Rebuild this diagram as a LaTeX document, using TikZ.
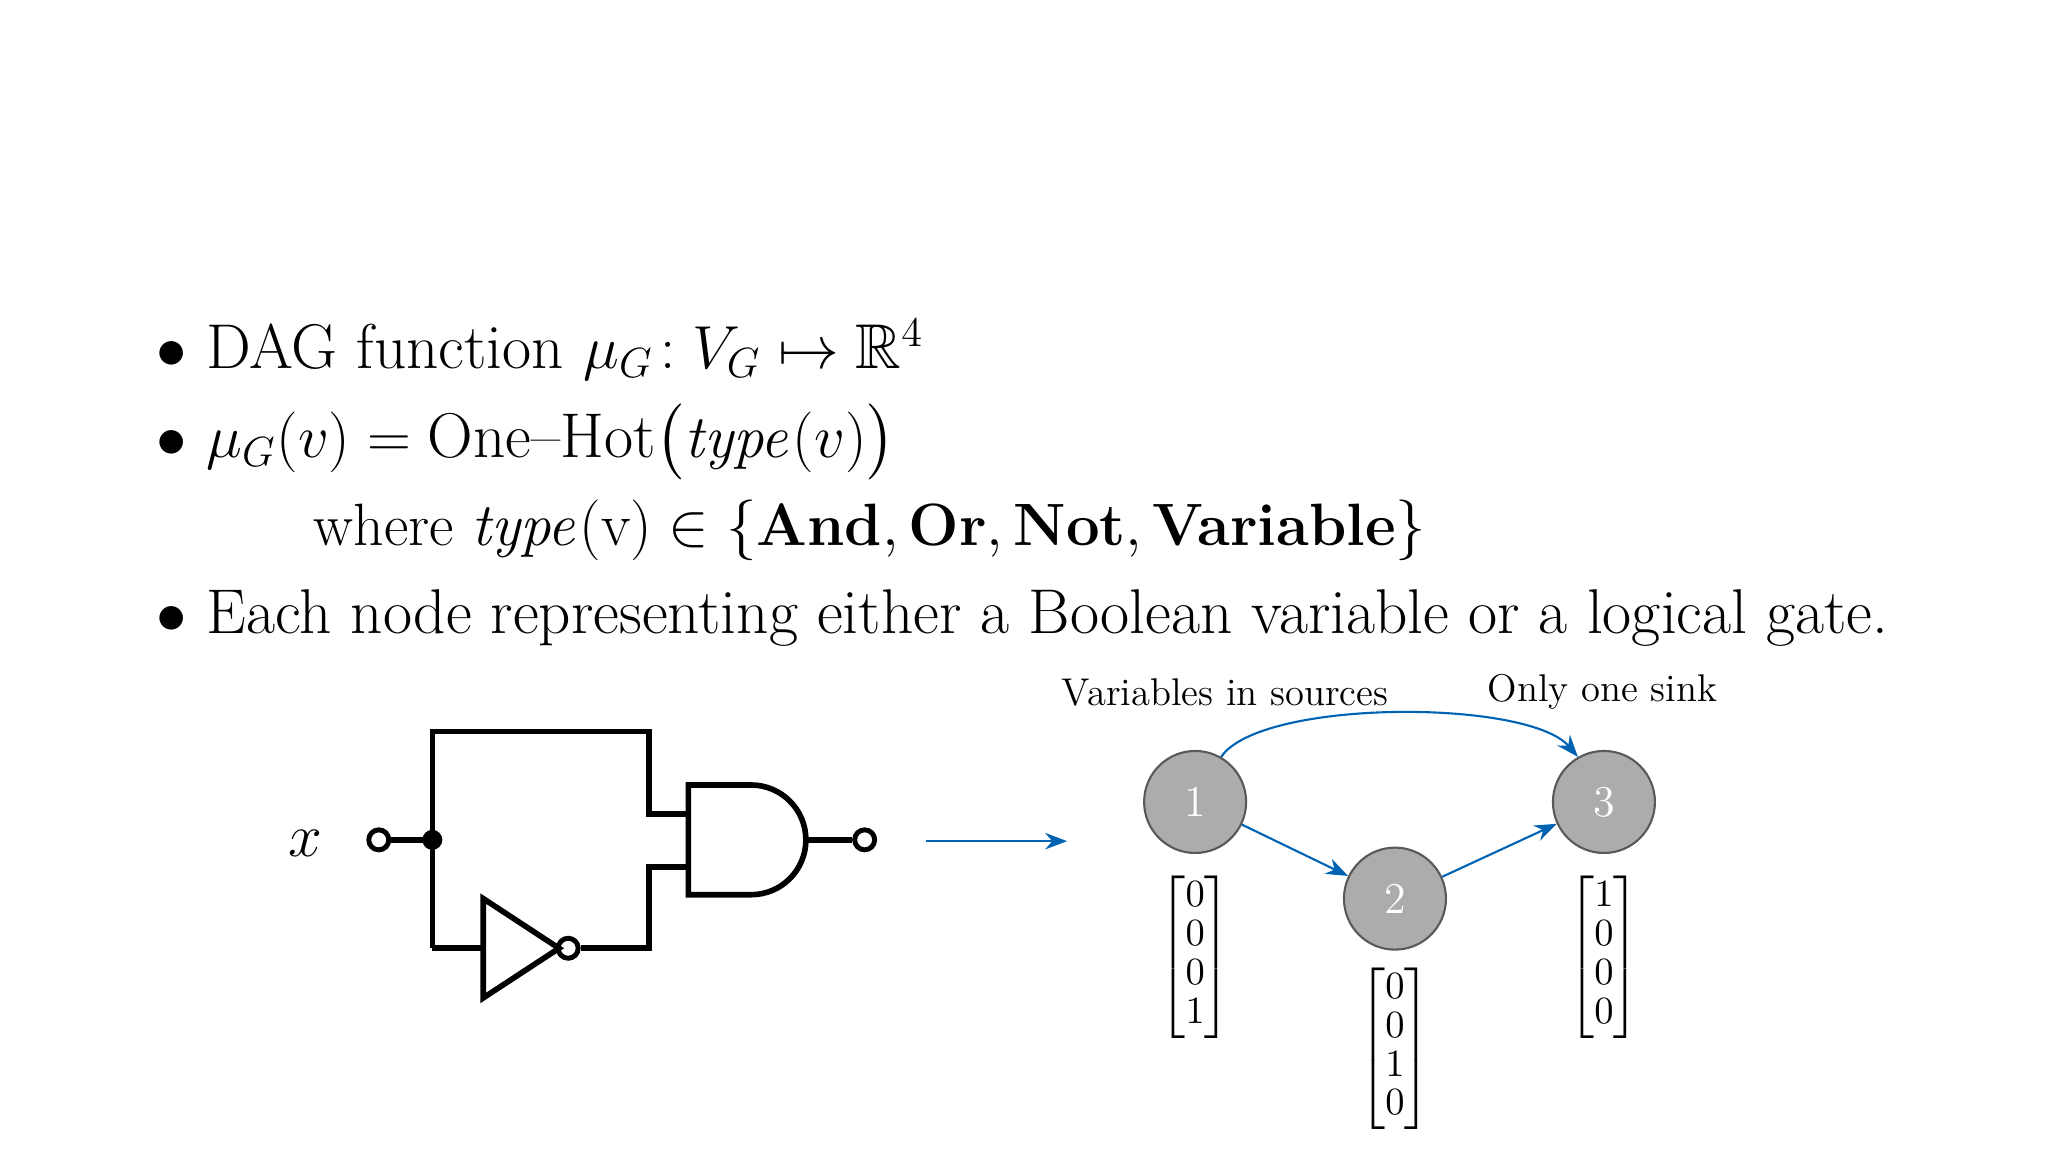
\documentclass[tikz,border=0pt]{standalone}
\usepackage{amsmath,amssymb}
\usetikzlibrary{arrows.meta}
\begin{document}
\begin{tikzpicture}[x=0.1306mm,y=-0.1306mm,line width=1.6pt,
  txt/.style={anchor=base west,inner sep=0pt,font=\fontsize{18}{21}\selectfont},
  lbl/.style={font=\fontsize{11}{13}\selectfont},
  vec/.style={font=\fontsize{11}{13}\selectfont,inner sep=0pt},
  vert/.style={draw=gray!70!black,line width=0.6pt,fill=gray!65,circle,minimum size=10.2mm,text=white,font=\fontsize{12.5}{15}\selectfont},
  flow/.style={draw=blue!45!cyan!70!black,line width=0.6pt,-{Stealth[length=2.2mm]}},
  pin/.style={draw,circle,fill=white,inner sep=0pt,minimum size=2mm,line width=1.4pt}]
  \useasboundingbox (0,0) rectangle (1568,882);
  % bullets
  \node[txt] (l1) at (118,282) {$\bullet$\ DAG function $\mu_G\!: V_G \mapsto \mathbb{R}^4$};
  \node[txt] (l2) at (118,350) {$\bullet$\ $\mu_G(v) = \text{One--Hot}\big(\mathit{type}(v)\big)$};
  \node[txt,font=\fontsize{17}{20}\selectfont] (l3) at (238,418) {where $\mathit{type}(\mathrm{v})\in\{\textbf{And},\textbf{Or},\textbf{Not},\textbf{Variable}\}$};
  \node[txt] (l4) at (118,485) {$\bullet$\ Each node representing either a Boolean variable or a logical gate.};
  % circuit
  \node[font=\fontsize{18}{20}\selectfont] (x) at (234,646) {$x$};
  \node[pin] (in) at (290,643) {};
  \node[pin] (out) at (662,643) {};
  \node[pin] (bub) at (435,726) {};
  \coordinate (j) at (331,643);
  \fill (j) circle (1mm);
  \draw (in) -- (j);
  \draw (331,726) -- (331,560) -- (497,560) -- (497,623) -- (527,623);
  \draw (331,726) -- (370,726);
  \draw (370,688) -- (370,764) -- (428,726) -- cycle;
  \draw (bub) -- (497,726) -- (497,664) -- (527,664);
  \draw (575,601) -- (527,601) -- (527,685) -- (575,685) arc (90:-90:42);
  \draw (617,643) -- (out);
  % arrow
  \coordinate (a0) at (709,644);
  \coordinate (a1) at (817,644);
  \draw[flow] (a0) -- (a1);
  % DAG
  \node[vert] (n1) at (915,614) {1};
  \node[vert] (n2) at (1068,688) {2};
  \node[vert] (n3) at (1228,614) {3};
  \draw[flow] (n1) -- (n2);
  \draw[flow] (n2) -- (n3);
  \draw[flow] (n1.60) .. controls (965,535) and (1170,535) .. (n3.120);
  \node[lbl] (src) at (938,530) {Variables in sources};
  \node[lbl] (snk) at (1227,530) {Only one sink};
  \node[vec] (v1) at (915,733) {\renewcommand{\arraystretch}{0.85}$\begin{bmatrix}0\\0\\0\\1\end{bmatrix}$};
  \node[vec] (v2) at (1068,803) {\renewcommand{\arraystretch}{0.85}$\begin{bmatrix}0\\0\\1\\0\end{bmatrix}$};
  \node[vec] (v3) at (1228,733) {\renewcommand{\arraystretch}{0.85}$\begin{bmatrix}1\\0\\0\\0\end{bmatrix}$};
\end{tikzpicture}
\end{document}
